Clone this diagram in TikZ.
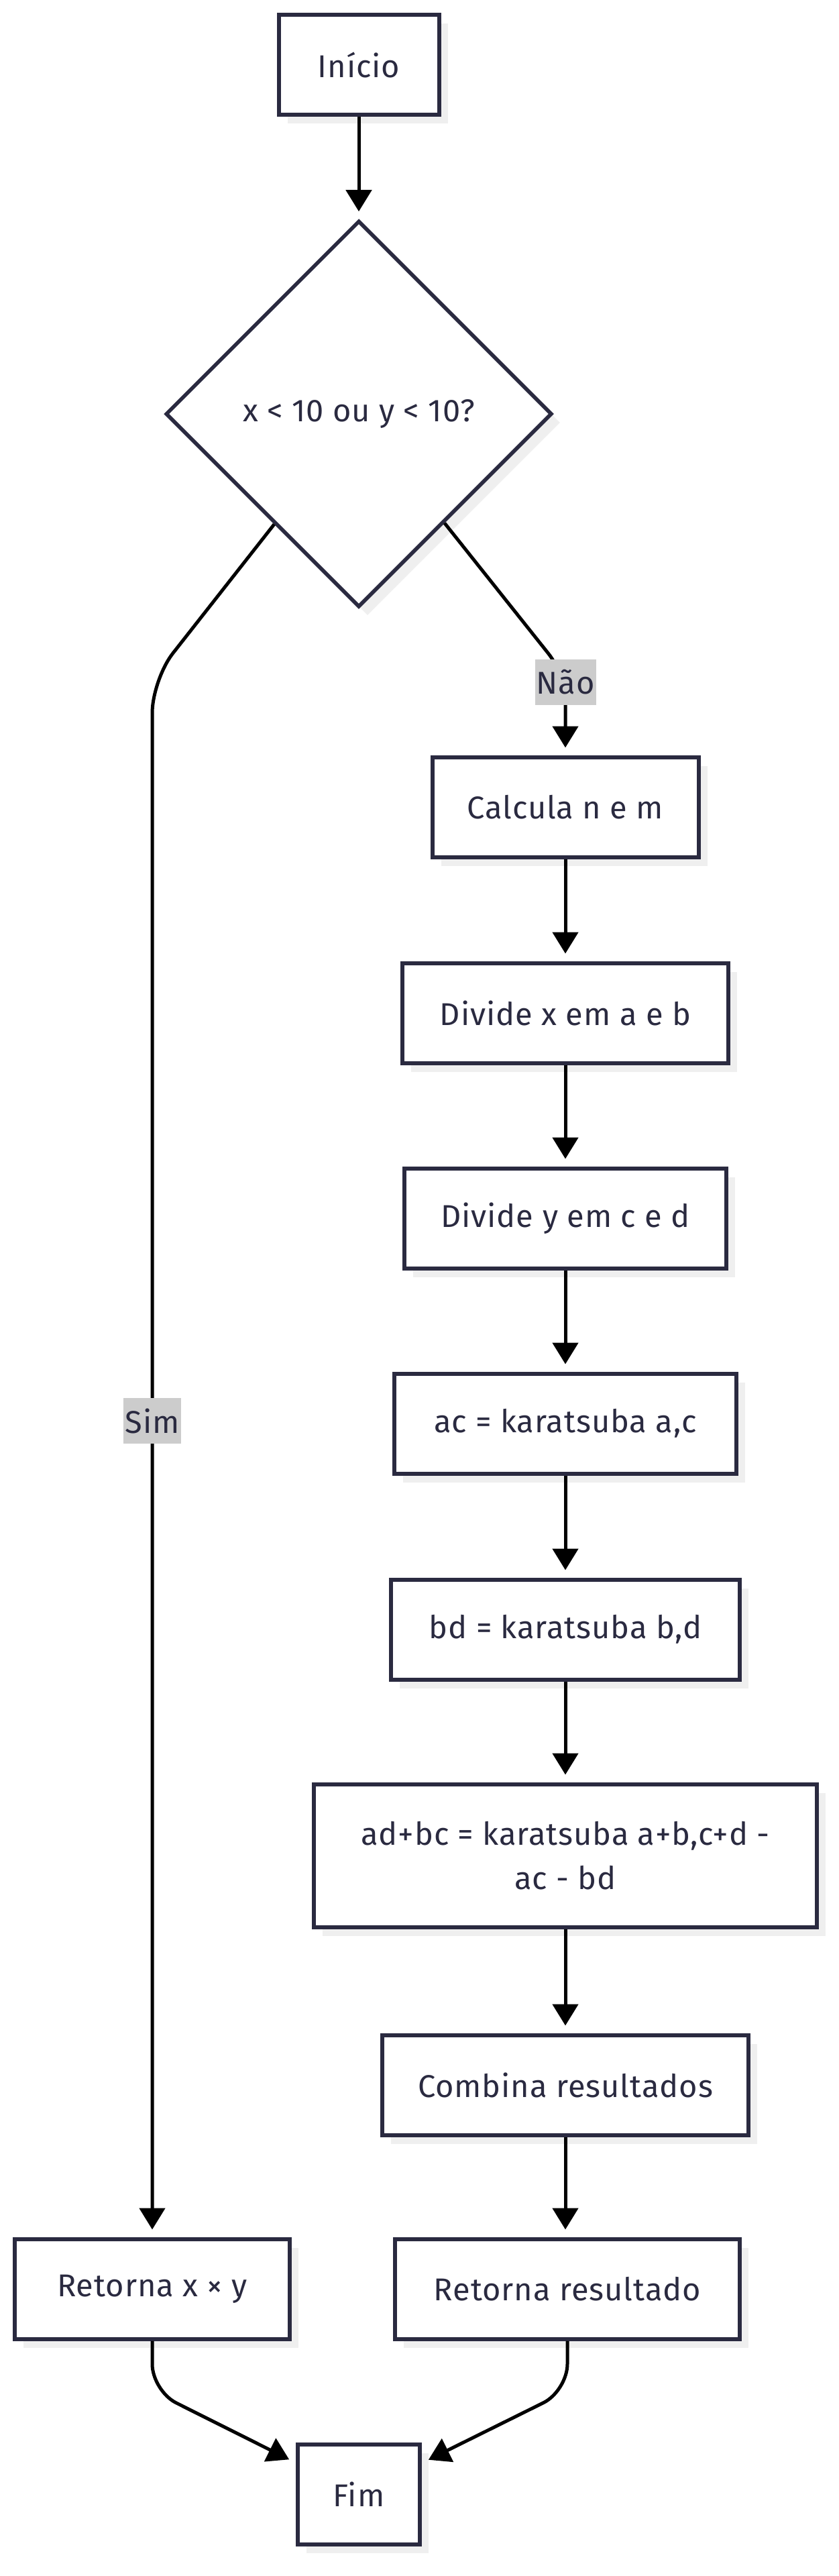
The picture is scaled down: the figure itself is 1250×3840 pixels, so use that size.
\documentclass[tikz,border=0pt]{standalone}
\usepackage{fontspec}
\setmainfont[LetterSpace=2]{Fira Sans}
\usetikzlibrary{shapes.geometric,arrows.meta,shadows,calc}
\definecolor{ink}{HTML}{2A2A40}
\definecolor{shade}{HTML}{EFEFEF}
\definecolor{lblbg}{HTML}{CCCCCC}
\begin{document}
\begin{tikzpicture}[x=1pt,y=-1pt,
  every node/.style={font=\fontsize{47}{66}\selectfont, text=ink},
  box/.style={draw=ink, line width=6pt, fill=white, minimum width=#1, minimum height=149pt, inner sep=0pt, align=center,
    drop shadow={shadow xshift=13pt, shadow yshift=-13pt, fill=shade, opacity=1}},
  dia/.style={shape=diamond, aspect=1, draw=ink, line width=5.5pt, fill=white, minimum width=576pt, minimum height=576pt, inner sep=0pt,
    drop shadow={shadow xshift=13pt, shadow yshift=-13pt, fill=shade, opacity=1}},
  edge/.style={line width=5pt, draw=black, -{Triangle[length=32pt,width=38pt]}, shorten >=11pt},
  lbl/.style={sharp corners, fill=lblbg, inner sep=2pt, minimum height=68pt, minimum width=81pt}
]
\useasboundingbox (0,0) rectangle (1250,3840);
\fill[white] (0,0) rectangle (1250,3840);

\node[box=239pt] (start) at (535,97) {Início};
\node[dia] (dec) at (535,617) {x < 10 ou y < 10?};
\node[box=397pt] (calc) at (843,1203) {Calcula n e m};
\node[box=486pt] (divx) at (843,1510) {Divide x em a e b};
\node[box=480pt] (divy) at (843,1816) {Divide y em c e d};
\node[box=510pt] (ac) at (843,2122) {ac = karatsuba a,c};
\node[box=520pt] (bd) at (843,2429) {bd = karatsuba b,d};
\node[box=750pt, minimum height=213pt] (adbc) at (843,2766) {ad+bc = karatsuba a+b,c+d -\\ac - bd};
\node[box=546pt] (comb) at (843,3108) {Combina resultados};
\node[box=514pt] (retr) at (846,3412) {Retorna resultado};
\node[box=410pt] (retxy) at (227,3412) {Retorna x × y};
\node[box=182pt] (fim) at (535,3718) {Fim};

\coordinate (L1) at (227,1013);
\coordinate (R1) at (843,1006);
\coordinate (B1) at (227,3564);
\coordinate (B2) at (846,3564);

\draw[edge] (start) -- (dec);
\draw[edge, rounded corners=50pt] ($(dec.west)!0.566!(dec.south)$) -- (L1) -- node[lbl, pos=0.476] {Sim} (retxy.north);
\draw[edge, rounded corners=40pt] ($(dec.south)!0.44!(dec.east)$) -- (R1) -- node[lbl, pos=0.09] {Não} (calc.north);
\draw[edge] (calc) -- (divx);
\draw[edge] (divx) -- (divy);
\draw[edge] (divy) -- (ac);
\draw[edge] (ac) -- (bd);
\draw[edge] (bd) -- (adbc);
\draw[edge] (adbc) -- (comb);
\draw[edge] (comb.south) -- (comb.south |- retr.north);
\draw[edge, rounded corners=40pt] (retxy.south) -- (B1) -- (fim);
\draw[edge, rounded corners=40pt] (retr.south) -- (B2) -- (fim);
\end{tikzpicture}
\end{document}
